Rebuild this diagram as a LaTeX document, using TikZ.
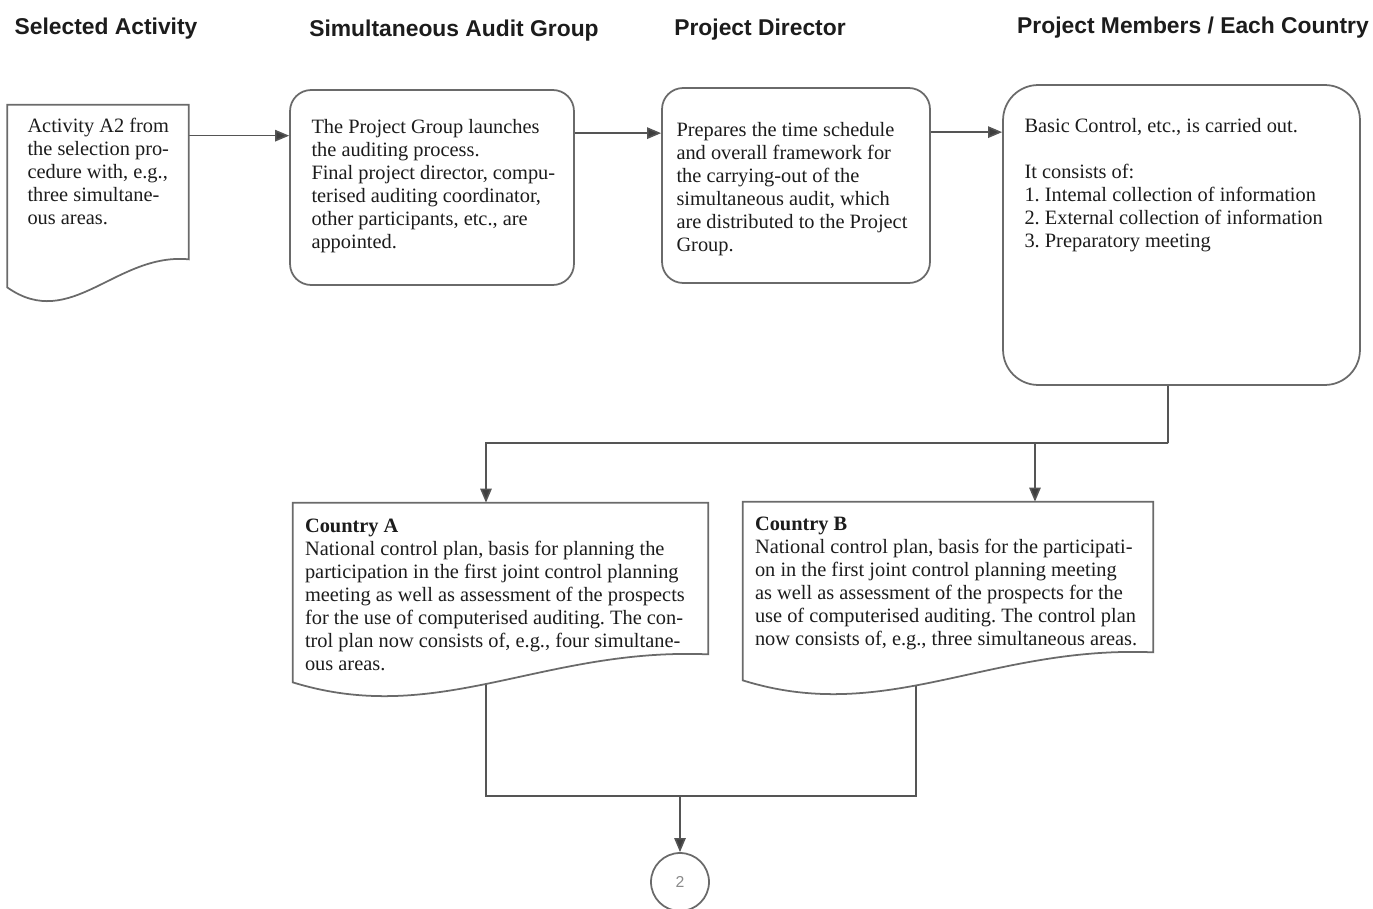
\documentclass[tikz,border=0pt]{standalone}
\usepackage{fontspec}
\setmainfont{Liberation Serif}
\newfontfamily\headfont{Liberation Sans}
\usetikzlibrary{arrows.meta,positioning,calc}
\definecolor{ink}{HTML}{1C1C1C}
\definecolor{edgegray}{HTML}{6A6A6A}
\definecolor{arrowgray}{HTML}{555555}
\definecolor{markgray}{HTML}{8A8A8A}
\frenchspacing

% outline of a document symbol round an (invisible) frame node
\newcommand\docframe[1]{%
  \draw[boxline,fill=white] (#1.north west) -- (#1.north east)
    -- ([yshift=0.56cm]#1.south east)
    .. controls ($(#1.south west)!0.6!(#1.south east)+(0pt,0.7cm)$)
    and ($(#1.south west)!0.35!(#1.south east)+(0pt,-0.9cm)$) .. (#1.south west)
    -- cycle;}

\begin{document}
\begin{tikzpicture}[x=0.02cm,y=-0.02cm,
    every node/.style={text=ink},
    head/.style={font=\headfont\bfseries\fontsize{13}{15}\selectfont},
    body/.style={font=\fontsize{11.6}{13.1}\selectfont,align=left,inner sep=0pt},
    boxline/.style={draw=edgegray,line width=1pt},
    rbox/.style={boxline,rounded corners=12pt,fill=white},
    docbox/.style={inner sep=0pt},
    line/.style={draw=arrowgray,line width=0.9pt},
    arr/.style={line,-{Triangle[length=8pt,width=6.5pt,fill=ink!85]}}]
  \useasboundingbox (0,0) rectangle (1373,909);
  % column headings
  \node[head] (h1) at (106,29) {Selected Activity};
  \node[head] (h2) at (454,31) {Simultaneous Audit Group};
  \node[head] (h3) at (760,30) {Project Director};
  \node[head] (h4) at (1193,28) {Project Members / Each Country};
  % frames
  \node[docbox,minimum width=3.62cm,minimum height=3.64cm] (act) at (98,196) {};
  \node[rbox,minimum width=5.68cm,minimum height=3.9cm] (aud) at (432,187.5) {};
  \node[rbox,minimum width=5.36cm,minimum height=3.9cm] (dir) at (796,185.5) {};
  \node[rbox,rounded corners=20pt,minimum width=7.14cm,minimum height=6cm] (mem) at (1181.5,235) {};
  \node[docbox,minimum width=8.3cm,minimum height=3.58cm] (cA) at (500.5,592.5) {};
  \node[docbox,minimum width=8.2cm,minimum height=3.56cm] (cB) at (948,591) {};
  \node[circle,draw=edgegray,line width=1pt,minimum size=1.16cm,inner sep=0pt,
    text=markgray,font=\headfont\small] (con2) at (680,882) {2};
  % connectors
  \draw[arr] (act.north east) ++(0,31) coordinate (a1) -- (a1 -| aud.west);
  \draw[arr] (aud.north east) ++(0,44) coordinate (a2) -- (a2 -| dir.west);
  \draw[arr] (dir.north east) ++(0,45) coordinate (a3) -- (a3 -| mem.west);
  \coordinate (split) at (1168,443);
  \draw[line] ([xshift=-0.27cm]mem.south) -- (split);
  \draw[arr] (split) -| ([xshift=-0.29cm]cA.north);
  \draw[arr] (split) -| ([xshift=1.74cm]cB.north);
  \coordinate (merge) at (680,796);
  \draw[line] ([xshift=-0.29cm]cA.south) |- (merge);
  \draw[line] ([xshift=-0.64cm]cB.south) |- (merge);
  \draw[arr] (merge) -- (con2);
  % document symbols
  \docframe{act}
  \docframe{cA}
  \docframe{cB}
  % texts
  \node[body,below right=0.27cm and 0.4cm of act.north west] (actT)
    {Activity A2 from\\the selection pro-\\cedure with, e.g.,\\three simultane-\\ous areas.};
  \node[body,below right=0.6cm and 0.44cm of aud.north west] (audT)
    {The Project Group launches\\the auditing process.\\Final project director, compu-\\terised auditing coordinator,\\other participants, etc., are\\appointed.};
  \node[body,below right=0.7cm and 0.3cm of dir.north west] (dirT)
    {Prepares the time schedule\\and overall framework for\\the carrying-out of the\\simultaneous audit, which\\are distributed to the Project\\Group.};
  \node[body,below right=0.68cm and 0.44cm of mem.north west] (memT)
    {Basic Control, etc., is carried out.\\[13.1pt]It consists of:\\1. Intemal collection of information\\2. External collection of information\\3. Preparatory meeting};
  \node[body,below right=0.31cm and 0.24cm of cA.north west] (cAT)
    {\textbf{Country A}\\National control plan, basis for planning the\\participation in the first joint control planning\\meeting as well as assessment of the prospects\\for the use of computerised auditing. The con-\\trol plan now consists of, e.g., four simultane-\\ous areas.};
  \node[body,below right=0.3cm and 0.24cm of cB.north west] (cBT)
    {\textbf{Country B}\\National control plan, basis for the participati-\\on in the first joint control planning meeting\\as well as assessment of the prospects for the\\use of computerised auditing. The control plan\\now consists of, e.g., three simultaneous areas.};
\end{tikzpicture}
\end{document}
